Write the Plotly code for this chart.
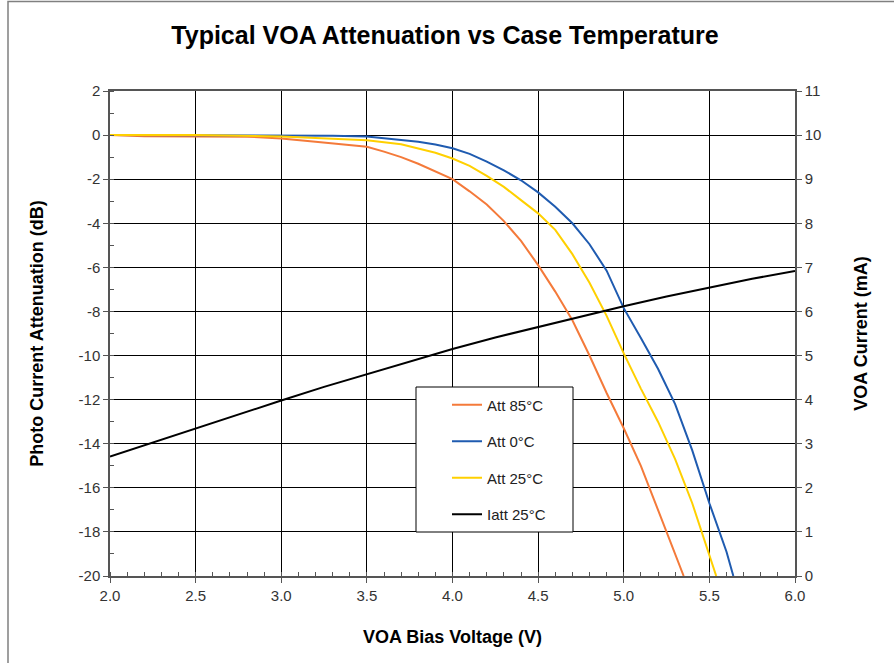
import plotly.graph_objects as go

# ---- data ----
v_85 = [2.0, 2.2, 2.8, 3.0, 3.2, 3.4, 3.5, 3.6, 3.7, 3.8, 3.9, 4.0, 4.1, 4.2, 4.3, 4.4, 4.5, 4.6, 4.7, 4.8, 4.9, 5.0, 5.1, 5.2, 5.3, 5.35]
att_85 = [0, -0.05, -0.07, -0.15, -0.3, -0.45, -0.53, -0.75, -1.0, -1.3, -1.65, -2.0, -2.55, -3.15, -3.9, -4.8, -5.9, -7.1, -8.4, -10.0, -11.7, -13.3, -15.0, -17.0, -19.0, -20.0]

v_0 = [2.0, 3.0, 3.3, 3.5, 3.7, 3.8, 3.9, 4.0, 4.1, 4.2, 4.3, 4.4, 4.5, 4.6, 4.7, 4.8, 4.9, 5.0, 5.1, 5.2, 5.3, 5.4, 5.5, 5.6, 5.64]
att_0 = [0, 0, -0.03, -0.06, -0.2, -0.3, -0.43, -0.6, -0.85, -1.2, -1.6, -2.05, -2.6, -3.25, -4.0, -4.95, -6.15, -7.85, -9.2, -10.6, -12.2, -14.3, -16.7, -18.9, -20.0]

v_25 = [2.0, 2.5, 3.0, 3.3, 3.5, 3.7, 3.8, 3.9, 4.0, 4.1, 4.2, 4.3, 4.4, 4.5, 4.6, 4.7, 4.8, 4.9, 5.0, 5.1, 5.2, 5.3, 5.4, 5.5, 5.54]
att_25 = [0, 0, -0.06, -0.15, -0.23, -0.42, -0.6, -0.8, -1.06, -1.4, -1.85, -2.35, -2.95, -3.55, -4.3, -5.4, -6.7, -8.2, -9.9, -11.5, -13.0, -14.7, -16.7, -19.0, -20.0]

v_i = [2.0, 2.25, 2.5, 2.75, 3.0, 3.25, 3.5, 3.75, 4.0, 4.25, 4.5, 4.75, 5.0, 5.25, 5.5, 5.75, 6.0]
iatt_25 = [2.71, 3.03, 3.35, 3.67, 3.98, 4.29, 4.58, 4.87, 5.15, 5.41, 5.65, 5.89, 6.12, 6.34, 6.54, 6.74, 6.92]

names = ["Att 85°C", "Att 0°C", "Att 25°C", "Iatt 25°C"]
colors = ["#F47A3A", "#1F5BB0", "#FFD000", "#000000"]

y_tickvals = [2, 0, -2, -4, -6, -8, -10, -12, -14, -16, -18, -20]
y_ticktext = ["2", "0", "-2", "-4", "-6", "-8", "-10", "-12", "-14", "-16", "-18", "-20"]
y2_tickvals = [0, 1, 2, 3, 4, 5, 6, 7, 8, 9, 10, 11]
x_tickvals = [2.0, 2.5, 3.0, 3.5, 4.0, 4.5, 5.0, 5.5, 6.0]

FONT = "Arial, Liberation Sans, sans-serif"

fig = go.Figure()
series = [(v_85, att_85), (v_0, att_0), (v_25, att_25)]
for i, (xv, yv) in enumerate(series):
    fig.add_trace(go.Scatter(x=xv, y=yv, mode="lines", name=names[i],
                             legendgroup=names[i],
                             line=dict(color=colors[i], width=2)))
fig.add_trace(go.Scatter(x=v_i, y=iatt_25, mode="lines", name=names[3],
                         legendgroup=names[3], yaxis="y2",
                         line=dict(color=colors[3], width=2)))

W, H = 894, 663
L, R, T, B = 110, 795, 91, 576
def px(x):
    return (x - L) / (R - L)
def py(y):
    return (B - y) / (B - T)

tickfont = dict(family=FONT, size=15, color="#333333")
titlefont = dict(family=FONT, size=18, color="#000000")

fig.update_layout(
    width=W, height=H,
    margin=dict(l=L, r=W - R, t=T, b=H - B, autoexpand=False),
    paper_bgcolor="white", plot_bgcolor="white",
    font=dict(family=FONT, size=15, color="#333333"),
    title=dict(text="<b>Typical VOA Attenuation vs Case Temperature</b>",
               x=445 / W, xanchor="center", xref="container",
               y=1 - 35 / H, yanchor="middle", yref="container",
               font=dict(family=FONT, size=25, color="#000000")),
    showlegend=True,
    legend=dict(x=px(447), y=py(388.5), xanchor="left", yanchor="top",
                bgcolor="rgba(0,0,0,0)", borderwidth=0,
                tracegroupgap=14, traceorder="grouped",
                font=dict(family=FONT, size=15, color="#222222")),
    xaxis=dict(range=[2.0, 6.0], tickvals=x_tickvals, tickformat=".1f",
               tickfont=tickfont, automargin=False,
               showgrid=True, gridcolor="#000000", gridwidth=1,
               ticks="outside", ticklen=5, tickcolor="#555555",
               showline=True, linecolor="#555555", linewidth=1.5, mirror=True,
               zeroline=False,
               minor=dict(dtick=0.1, ticks="inside", ticklen=4, tickcolor="#555555", showgrid=False),
               title=dict(text="<b>VOA Bias Voltage (V)</b>", standoff=28, font=titlefont)),
    yaxis=dict(range=[-20, 2], tickvals=y_tickvals, ticktext=y_ticktext,
               tickfont=tickfont, automargin=False,
               showgrid=True, gridcolor="#000000", gridwidth=1,
               ticks="outside", ticklen=5, tickcolor="#555555",
               showline=True, linecolor="#555555", linewidth=1.5,
               zeroline=False,
               minor=dict(dtick=1, ticks="inside", ticklen=4, tickcolor="#555555", showgrid=False),
               title=dict(text="<b>Photo Current Attenuation (dB)</b>", standoff=30, font=titlefont)),
    yaxis2=dict(range=[0, 11], tickvals=y2_tickvals, overlaying="y", side="right",
                tickfont=tickfont, automargin=False,
                showgrid=False, zeroline=False,
                ticks="outside", ticklen=5, tickcolor="#555555",
                showline=True, linecolor="#555555", linewidth=1.5,
                title=dict(text="<b>VOA Current (mA)</b>", standoff=34, font=titlefont)),
    shapes=[
        dict(type="rect", xref="paper", yref="paper",
             x0=px(416), x1=px(573), y0=py(532), y1=py(387),
             fillcolor="white", line=dict(color="#000000", width=1), layer="above"),
        dict(type="rect", xref="paper", yref="paper",
             x0=px(8), x1=px(905), y0=py(675), y1=py(1.5),
             fillcolor="rgba(0,0,0,0)", line=dict(color="#808080", width=1.5)),
    ],
)

fig.write_html("out.html",
               config={"displayModeBar": False},
               post_script="document.body.style.margin='0';document.body.style.overflow='hidden';")
